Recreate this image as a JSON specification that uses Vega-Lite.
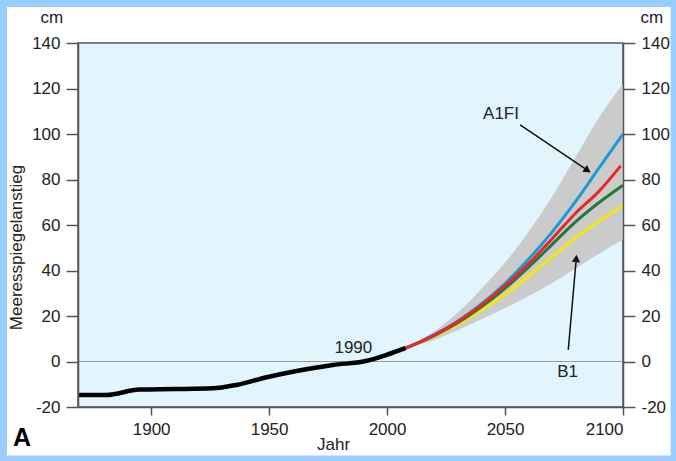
{
  "$schema": "https://vega.github.io/schema/vega-lite/v6.json",
  "width": 545,
  "height": 364,
  "autosize": {"type": "none"},
  "padding": {"left": 78, "top": 43, "right": 53, "bottom": 54},
  "background": "#99ccff",
  "datasets": {
    "one": [{}],
    "band": [
      {"year": 2008, "lo": 6, "hi": 6},
      {"year": 2015, "lo": 7.8, "hi": 10},
      {"year": 2020, "lo": 9.5, "hi": 13.2},
      {"year": 2030, "lo": 13.8, "hi": 21.5},
      {"year": 2040, "lo": 18.6, "hi": 32},
      {"year": 2050, "lo": 23.5, "hi": 43.5},
      {"year": 2060, "lo": 28.8, "hi": 57},
      {"year": 2070, "lo": 34.5, "hi": 72.5},
      {"year": 2080, "lo": 41, "hi": 90},
      {"year": 2090, "lo": 47.5, "hi": 107.5},
      {"year": 2100, "lo": 53.6, "hi": 122}
    ],
    "hist": [
      {"year": 1869, "value": -14.7},
      {"year": 1881, "value": -14.7},
      {"year": 1895, "value": -12.3},
      {"year": 1910, "value": -12.1},
      {"year": 1926, "value": -11.8},
      {"year": 1936, "value": -10.3},
      {"year": 1949, "value": -6.9},
      {"year": 1960, "value": -4.5},
      {"year": 1977, "value": -1.5},
      {"year": 1991, "value": 0.2},
      {"year": 2000, "value": 3},
      {"year": 2008, "value": 6}
    ],
    "proj": [
      {"series": "B1", "year": 2008, "value": 6},
      {"series": "B1", "year": 2015, "value": 8.8},
      {"series": "B1", "year": 2020, "value": 11},
      {"series": "B1", "year": 2030, "value": 16.3},
      {"series": "B1", "year": 2040, "value": 22.5},
      {"series": "B1", "year": 2050, "value": 29.5},
      {"series": "B1", "year": 2060, "value": 37.5},
      {"series": "B1", "year": 2070, "value": 46},
      {"series": "B1", "year": 2080, "value": 54.5},
      {"series": "B1", "year": 2090, "value": 61.8},
      {"series": "B1", "year": 2100, "value": 68.5},
      {"series": "A1B", "year": 2008, "value": 6},
      {"series": "A1B", "year": 2015, "value": 9},
      {"series": "A1B", "year": 2020, "value": 11.4},
      {"series": "A1B", "year": 2030, "value": 17},
      {"series": "A1B", "year": 2040, "value": 24},
      {"series": "A1B", "year": 2050, "value": 32.2},
      {"series": "A1B", "year": 2060, "value": 41.5},
      {"series": "A1B", "year": 2070, "value": 51.5},
      {"series": "A1B", "year": 2080, "value": 61.5},
      {"series": "A1B", "year": 2090, "value": 70},
      {"series": "A1B", "year": 2100, "value": 77.5},
      {"series": "A1FI", "year": 2008, "value": 6},
      {"series": "A1FI", "year": 2015, "value": 9.2},
      {"series": "A1FI", "year": 2020, "value": 11.8},
      {"series": "A1FI", "year": 2030, "value": 17.8},
      {"series": "A1FI", "year": 2040, "value": 25.3},
      {"series": "A1FI", "year": 2050, "value": 34.3},
      {"series": "A1FI", "year": 2060, "value": 45},
      {"series": "A1FI", "year": 2070, "value": 57},
      {"series": "A1FI", "year": 2080, "value": 70.5},
      {"series": "A1FI", "year": 2090, "value": 85.3},
      {"series": "A1FI", "year": 2100, "value": 100},
      {"series": "A2", "year": 2008, "value": 6},
      {"series": "A2", "year": 2015, "value": 9.1},
      {"series": "A2", "year": 2020, "value": 11.6},
      {"series": "A2", "year": 2030, "value": 17.5},
      {"series": "A2", "year": 2040, "value": 24.8},
      {"series": "A2", "year": 2050, "value": 33.3},
      {"series": "A2", "year": 2060, "value": 43},
      {"series": "A2", "year": 2070, "value": 54},
      {"series": "A2", "year": 2080, "value": 65.3},
      {"series": "A2", "year": 2090, "value": 75},
      {"series": "A2", "year": 2099, "value": 86}
    ],
    "arrows": [
      {"label": "A1FI", "x0": 2056.4, "y0": 104.0, "x1": 2085.0, "y1": 84.0},
      {"label": "B1", "x0": 2076.8, "y0": 5.1, "x1": 2080.2, "y1": 45.3}
    ],
    "notes": [
      {"label": "1990", "year": 1985.7, "value": 5.8},
      {"label": "A1FI", "year": 2048.3, "value": 108.8},
      {"label": "B1", "year": 2076.5, "value": -4.5},
      {"label": "cm", "year": 1857.9, "value": 151},
      {"label": "cm", "year": 2112.2, "value": 151}
    ],
    "corner": [{"label": "A", "year": 1845.3, "value": -33.6}]
  },
  "resolve": {"axis": {"x": "independent", "y": "independent"}},
  "layer": [
    {
      "data": {"name": "one"},
      "mark": {"type": "rect", "color": "#ffffff", "clip": false},
      "encoding": {
        "x": {"datum": 1838.9, "type": "quantitative", "scale": {"domain": [1869, 2100], "nice": false, "zero": false}, "axis": null},
        "x2": {"datum": 2120.2},
        "y": {"datum": 155.8, "type": "quantitative", "scale": {"domain": [-20, 140], "nice": false, "zero": false}, "axis": null},
        "y2": {"datum": -41.3}
      }
    },
    {
      "data": {"name": "one"},
      "mark": {"type": "rect", "color": "#e2f4fc", "stroke": "#555555", "strokeWidth": 1.5},
      "encoding": {
        "x": {"datum": 1869, "type": "quantitative", "scale": {"domain": [1869, 2100], "nice": false, "zero": false}, "axis": null},
        "x2": {"datum": 2100},
        "y": {"datum": 140, "type": "quantitative", "scale": {"domain": [-20, 140], "nice": false, "zero": false}, "axis": null},
        "y2": {"datum": -20}
      }
    },
    {
      "data": {"name": "one"},
      "mark": {"type": "rule", "color": "#9a9a9a", "strokeWidth": 1},
      "encoding": {
        "x": {"datum": 1869, "type": "quantitative", "scale": {"domain": [1869, 2100], "nice": false, "zero": false}, "axis": null},
        "x2": {"datum": 2100},
        "y": {"datum": 0, "type": "quantitative", "scale": {"domain": [-20, 140], "nice": false, "zero": false}, "axis": null}
      }
    },
    {
      "data": {"name": "band"},
      "mark": {"type": "area", "color": "#cbcbcb", "interpolate": "monotone"},
      "encoding": {
        "x": {"field": "year", "type": "quantitative", "scale": {"domain": [1869, 2100], "nice": false, "zero": false}, "axis": null},
        "y": {"field": "hi", "type": "quantitative", "scale": {"domain": [-20, 140], "nice": false, "zero": false}, "axis": null},
        "y2": {"field": "lo"}
      }
    },
    {
      "data": {"name": "hist"},
      "mark": {"type": "line", "color": "#000000", "strokeWidth": 4.5, "interpolate": "monotone"},
      "encoding": {
        "x": {"field": "year", "type": "quantitative", "scale": {"domain": [1869, 2100], "nice": false, "zero": false},
          "axis": {"zindex": 2, "orient": "bottom", "values": [1900, 1950, 2000, 2050, 2100], "format": "d", "tickSize": 8, "labelPadding": 6, "title": "Jahr", "titleX": 255, "titleY": 42, "titleBaseline": "alphabetic", "titleAlign": "center"}},
        "y": {"field": "value", "type": "quantitative", "scale": {"domain": [-20, 140], "nice": false, "zero": false},
          "axis": {"zindex": 2, "orient": "left", "values": [-20, 0, 20, 40, 60, 80, 100, 120, 140], "labelExpr": "'' + datum.value", "tickSize": 12, "labelPadding": 6, "title": "Meeresspiegelanstieg", "titleX": -62, "titleY": 204, "titleAngle": -90, "titleBaseline": "middle", "titleAlign": "center"}}
      }
    },
    {
      "data": {"name": "proj"},
      "mark": {"type": "line", "strokeWidth": 3, "interpolate": "monotone"},
      "encoding": {
        "x": {"field": "year", "type": "quantitative", "scale": {"domain": [1869, 2100], "nice": false, "zero": false}, "axis": null},
        "y": {"field": "value", "type": "quantitative", "scale": {"domain": [-20, 140], "nice": false, "zero": false},
          "axis": {"zindex": 2, "orient": "right", "values": [-20, 0, 20, 40, 60, 80, 100, 120, 140], "labelExpr": "'' + datum.value", "tickSize": 12, "labelPadding": 6, "title": null}},
        "color": {"field": "series", "type": "nominal", "legend": null,
          "scale": {"domain": ["A1FI", "A2", "A1B", "B1"], "range": ["#1b9ad6", "#e8262c", "#22793a", "#f5e614"]}}
      }
    },
    {
      "data": {"name": "arrows"},
      "mark": {"type": "rule", "color": "#111111", "strokeWidth": 1.5},
      "encoding": {
        "x": {"field": "x0", "type": "quantitative", "scale": {"domain": [1869, 2100], "nice": false, "zero": false}, "axis": null},
        "x2": {"field": "x1"},
        "y": {"field": "y0", "type": "quantitative", "scale": {"domain": [-20, 140], "nice": false, "zero": false}, "axis": null},
        "y2": {"field": "y1"}
      }
    },
    {
      "data": {"name": "arrows"},
      "transform": [{"filter": "datum.label == 'A1FI'"}],
      "mark": {"type": "point", "shape": "triangle-up", "filled": true, "color": "#111111", "size": 70, "angle": 124, "opacity": 1},
      "encoding": {
        "x": {"field": "x1", "type": "quantitative", "scale": {"domain": [1869, 2100], "nice": false, "zero": false}, "axis": null},
        "y": {"field": "y1", "type": "quantitative", "scale": {"domain": [-20, 140], "nice": false, "zero": false}, "axis": null}
      }
    },
    {
      "data": {"name": "arrows"},
      "transform": [{"filter": "datum.label == 'B1'"}],
      "mark": {"type": "point", "shape": "triangle-up", "filled": true, "color": "#111111", "size": 70, "angle": 5, "opacity": 1},
      "encoding": {
        "x": {"field": "x1", "type": "quantitative", "scale": {"domain": [1869, 2100], "nice": false, "zero": false}, "axis": null},
        "y": {"field": "y1", "type": "quantitative", "scale": {"domain": [-20, 140], "nice": false, "zero": false}, "axis": null}
      }
    },
    {
      "data": {"name": "notes"},
      "mark": {"type": "text", "fontSize": 17, "color": "#222222", "align": "center", "baseline": "middle", "clip": false},
      "encoding": {
        "x": {"field": "year", "type": "quantitative", "scale": {"domain": [1869, 2100], "nice": false, "zero": false}, "axis": null},
        "y": {"field": "value", "type": "quantitative", "scale": {"domain": [-20, 140], "nice": false, "zero": false}, "axis": null},
        "text": {"field": "label"}
      }
    },
    {
      "data": {"name": "corner"},
      "mark": {"type": "text", "fontSize": 25, "fontWeight": "bold", "color": "#000000", "align": "center", "baseline": "middle", "clip": false},
      "encoding": {
        "x": {"field": "year", "type": "quantitative", "scale": {"domain": [1869, 2100], "nice": false, "zero": false}, "axis": null},
        "y": {"field": "value", "type": "quantitative", "scale": {"domain": [-20, 140], "nice": false, "zero": false}, "axis": null},
        "text": {"field": "label"}
      }
    }
  ],
  "config": {
    "font": "Liberation Sans",
    "view": {"stroke": null},
    "axis": {
      "labelFont": "Liberation Sans", "labelFontSize": 17, "labelColor": "#222222",
      "titleFont": "Liberation Sans", "titleFontSize": 17, "titleFontWeight": "normal", "titleColor": "#222222",
      "domainColor": "#555555", "domainWidth": 1.5, "tickColor": "#555555", "tickWidth": 1.5,
      "grid": false
    },
    "text": {"font": "Liberation Sans"}
  }
}
